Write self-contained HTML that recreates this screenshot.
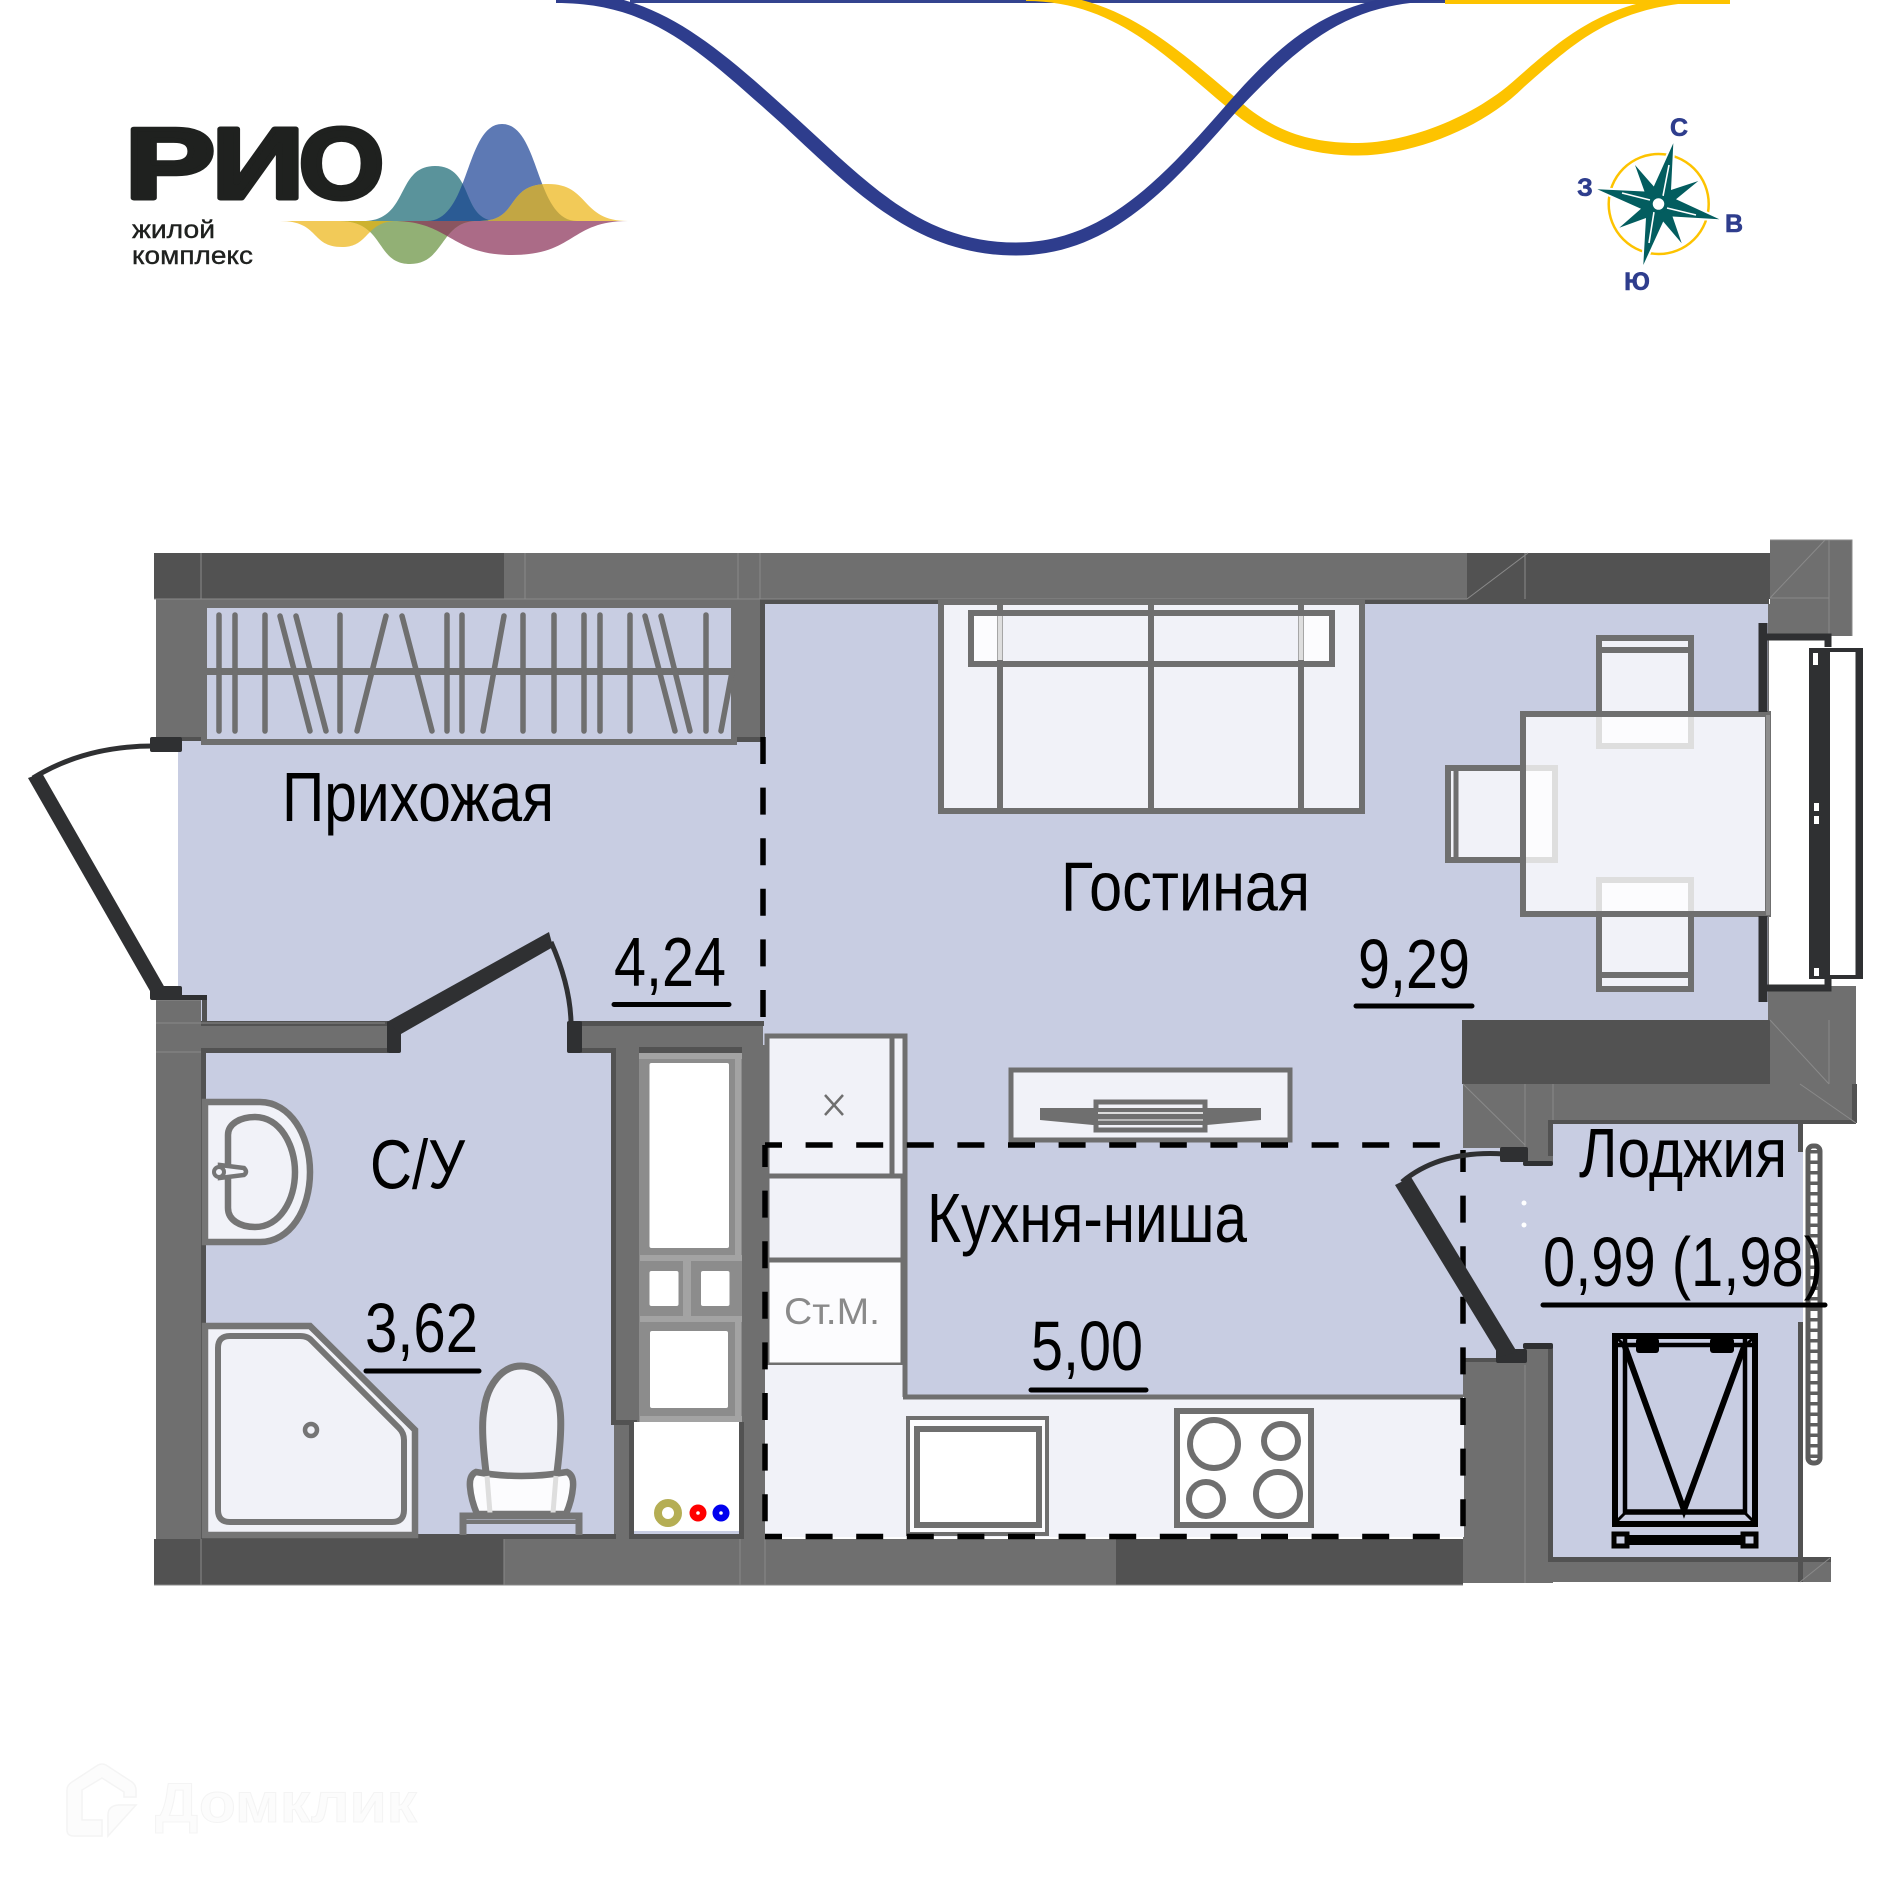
<!DOCTYPE html>
<html lang="ru"><head><meta charset="utf-8"><title>Планировка</title>
<style>html,body{margin:0;padding:0;background:#fff}svg{display:block}text{font-family:"Liberation Sans","Noto Sans CJK SC",sans-serif}</style></head>
<body>
<svg xmlns="http://www.w3.org/2000/svg" width="1891" height="1890" viewBox="0 0 1891 1890">
<defs>
<clipPath id="cT"><path d="M363,221C410,221 395,166 435,166C475,166 460,221 497,221Z"/></clipPath>
<clipPath id="cB"><path d="M427,221C470,221 465,124 502,124C540,124 535,221 577,221Z"/></clipPath>
<clipPath id="cY"><path d="M280,221C320,221 310,247 342,247C370,247 365,221 397,221Z"/></clipPath>
<clipPath id="cG"><path d="M340,221C385,221 375,264 410,264C445,264 440,221 477,221Z"/></clipPath>
</defs>

<!-- top waves -->
<rect x="630" y="0" width="815" height="3" fill="#34448f"/>
<rect x="1445" y="0" width="285" height="4" fill="#fdc300"/>
<path d="M1026,-7C1118,-7 1172,45 1236,98C1272,130 1306,143 1358,143C1404,143 1472,119 1516,79C1571,31 1613,-7 1727,-7L1727,1C1617,1 1579,39 1524,87C1480,131 1408,155.500 1358,155.500C1306,155.500 1264,140 1228,108C1164,55 1114,1 1026,1Z" fill="#fdc300"/>
<path d="M556,-9C651,-9 705,35 793,115C865,180 920,242.500 1016,242.500C1105,242.500 1164,176 1228,103C1292,30 1342,-7 1445,-7L1445,1C1350,1 1304,40 1236,112C1172,184 1112,255.500 1016,255.500C916,255.500 855,192 783,125C695,46 649,3 556,3Z" fill="#2e3d8d"/>

<!-- logo -->
<g fill="#1f211f" stroke="#1f211f" stroke-width="5" stroke-linejoin="round">
<text x="125" y="198" font-size="100" font-weight="700" textLength="90" lengthAdjust="spacingAndGlyphs">Р</text>
<text x="212" y="198" font-size="100" font-weight="700" textLength="92" lengthAdjust="spacingAndGlyphs">И</text>
<text x="299" y="198" font-size="100" font-weight="700" textLength="85" lengthAdjust="spacingAndGlyphs">О</text>
</g>
<text x="132" y="238" font-size="25" fill="#1f211f" stroke="#1f211f" stroke-width=".4" textLength="83" lengthAdjust="spacingAndGlyphs">жилой</text>
<text x="132" y="264" font-size="25" fill="#1f211f" stroke="#1f211f" stroke-width=".4" textLength="121" lengthAdjust="spacingAndGlyphs">комплекс</text>
<path d="M427,221C470,221 465,124 502,124C540,124 535,221 577,221Z" fill="#5d79b4"/>
<path d="M363,221C410,221 395,166 435,166C475,166 460,221 497,221Z" fill="#5a939b"/>
<path d="M363,221C410,221 395,166 435,166C475,166 460,221 497,221Z" fill="#2b5b94" clip-path="url(#cB)"/>
<path d="M480,221C520,221 505,184 548,184C590,184 580,221 628,221Z" fill="#f2ca58"/>
<path d="M480,221C520,221 505,184 548,184C590,184 580,221 628,221Z" fill="#c2a644" clip-path="url(#cB)"/>
<path d="M393,221C450,221 450,255 512,255C575,255 570,221 628,221Z" fill="#ab6b87"/>
<path d="M280,221C320,221 310,247 342,247C370,247 365,221 397,221Z" fill="#f2ca58"/>
<path d="M340,221C385,221 375,264 410,264C445,264 440,221 477,221Z" fill="#92b075"/>
<path d="M340,221C385,221 375,264 410,264C445,264 440,221 477,221Z" fill="#cdb22f" clip-path="url(#cY)"/>
<path d="M393,221C450,221 450,255 512,255C575,255 570,221 628,221Z" fill="#8a5560" clip-path="url(#cG)"/>

<!-- compass -->
<circle cx="1658.700" cy="204" r="50" fill="none" stroke="#fdc300" stroke-width="2.500"/>
<path d="M1673.300,143.300L1671,190L1698.300,181L1676,199.300L1719.300,219.300L1672.500,216.500L1681.700,243.300L1663.200,221.500L1643.300,265L1646,218L1619.300,227.700L1641,208.700L1597.300,189.300L1644.500,191.500L1635,165L1653.800,186.500Z" fill="#035d5f" stroke="#fff" stroke-width="4" paint-order="stroke" stroke-linejoin="round"/>
<g stroke="#fff" stroke-width="1.600" fill="none">
<path d="M1669,165L1663,196M1649,243L1654,212M1622,193L1650,200M1696,215L1667,208"/></g>
<circle cx="1658.500" cy="204" r="7.500" fill="#fff" stroke="#035d5f" stroke-width="3.500"/>
<g fill="#2e3d8d" stroke="#2e3d8d" stroke-width=".6" font-size="25" font-weight="700" text-anchor="middle">
<text x="1679" y="136">С</text><text x="1734" y="232">В</text><text x="1637" y="290">Ю</text><text x="1585" y="196">З</text></g>

<!-- floor -->
<rect x="178" y="740" width="590" height="310" fill="#c8cde2"/>
<rect x="764" y="600" width="1004" height="450" fill="#c8cde2"/>
<rect x="904" y="1020" width="562" height="380" fill="#c8cde2"/>
<rect x="201" y="1048" width="415" height="490" fill="#c8cde2"/>
<rect x="1550" y="1123" width="253" height="436" fill="#c8cde2"/>
<rect x="1463" y="1148" width="90" height="212" fill="#c8cde2"/>

<!-- walls -->
<g fill="#6f6f6f">
<rect x="154" y="553" width="1313" height="46"/>
<rect x="156" y="599" width="608" height="8"/>
<rect x="156" y="599" width="45" height="138"/>
<rect x="737" y="599" width="26" height="138"/>
<rect x="156" y="1000" width="45" height="540"/>
<rect x="156" y="1023" width="232" height="28"/>
<rect x="581" y="1023" width="182" height="28"/>
<rect x="614" y="1045" width="25" height="495"/>
<rect x="742" y="1045" width="23" height="495"/>
<rect x="154" y="1539" width="1309" height="46"/>
<rect x="1770" y="540" width="82" height="96"/>
<rect x="1770" y="986" width="86" height="135"/>
<rect x="1463" y="1084" width="393" height="39"/>
<rect x="1463" y="1084" width="90" height="64"/>
<rect x="1523" y="1120" width="30" height="42"/>
<rect x="1463" y="1360" width="90" height="223"/>
<rect x="1525" y="1345" width="28" height="20"/>
<rect x="1550" y="1558" width="281" height="24"/>
</g>
<g fill="#525252">
<rect x="154" y="553" width="350" height="46"/>
<rect x="1467" y="553" width="303" height="46"/>
<rect x="1462" y="1020" width="308" height="64"/>
<rect x="154" y="1539" width="350" height="46"/>
<rect x="1116" y="1539" width="347" height="46"/>
<rect x="764" y="599" width="1005" height="5"/>
<rect x="760" y="599" width="5" height="140"/>
<rect x="737" y="737" width="26" height="5"/>
<rect x="180" y="737" width="21" height="4"/>
<rect x="1768" y="604" width="2" height="416" fill="#6f6f6f"/>
<rect x="201" y="1021" width="187" height="5"/>
<rect x="581" y="1021" width="183" height="5"/>
<rect x="201" y="1048" width="187" height="5"/>
<rect x="581" y="1048" width="35" height="5"/>
<rect x="201" y="1048" width="5" height="490"/>
<rect x="202" y="997" width="5" height="26"/>
<rect x="611" y="1048" width="5" height="372"/>
<rect x="611" y="1420" width="26" height="5"/>
<rect x="629" y="1422" width="5" height="116"/>
<rect x="739" y="1422" width="5" height="116"/>
<rect x="201" y="1534" width="415" height="5"/>
<rect x="629" y="1534" width="115" height="5"/>
<rect x="1548" y="1120" width="5" height="36"/>
<rect x="1548" y="1120" width="308" height="4"/>
<rect x="1852" y="1084" width="5" height="39"/>
<rect x="1548" y="1345" width="5" height="212"/>
<rect x="1548" y="1557" width="283" height="5"/>
<rect x="1798" y="1123" width="5" height="29"/>
<rect x="1798" y="1322" width="5" height="260"/>
<rect x="1463" y="1358" width="40" height="4"/>
</g>
<g stroke="#8a8a8a" stroke-width="1" fill="none">
<path d="M201,553V599M525,553V599M738,553V599M760,553V599M154,599H1467M1525,553V599M1467,599L1528,553M1770,540H1852V636M1829,540V636M1770,598H1829M1770,598L1825,540"/>
<path d="M156,1000H201M156,1023H385M156,1052H201M201,1539V1585M504,1539V1585M740,1539V1585M765,1539V1585M154,1585H1463M1770,1020L1829,1084M1829,1020V1084M1770,986H1829M1525,1084V1148M1525,1365V1583M1553,1084V1120M1463,1084L1525,1145M1800,1084L1856,1123M1830,1558L1800,1582"/>
</g>

<!-- wardrobe -->
<rect x="204" y="605" width="530" height="137" fill="#c8cde2" stroke="#6f6f6f" stroke-width="6"/>
<rect x="204" y="668" width="530" height="7" fill="#6f6f6f"/>
<g stroke="#6f6f6f" stroke-width="5.500" stroke-linecap="round" fill="none">
<path d="M219,615V731M235,615V731M265,615V731M280,616L310,731M296,616L326,731M340,615V731M386,616L357,731M402,616L432,731M447,615V731M462,615V731M504,616L483,731M523,615V731M554,615V731M584,615V731M600,615V731M630,615V731M645,616L675,731M661,616L690,731M706,615V731M732,672L721,731"/>
</g>

<!-- sofa -->
<rect x="941" y="602" width="421" height="209" fill="#f1f2f8" stroke="#6f6f6f" stroke-width="6"/>
<rect x="970" y="612" width="30" height="51" fill="#fcfcfe"/><rect x="1302" y="612" width="30" height="51" fill="#fcfcfe"/>
<path d="M1000,599V813M1151,599V813M1301,599V813" stroke="#6f6f6f" stroke-width="6" fill="none"/>
<path d="M1000,615V660M1301,615V660" stroke="#dedede" stroke-width="5"/>
<rect x="971" y="613" width="361" height="51" fill="none" stroke="#6f6f6f" stroke-width="6"/>
<path d="M1151,610V665" stroke="#6f6f6f" stroke-width="5"/>

<!-- dining chairs under table -->
<rect x="1599" y="638" width="92" height="108" fill="#f1f2f8" stroke="#6f6f6f" stroke-width="6"/>
<path d="M1599,650H1691" stroke="#6f6f6f" stroke-width="6"/>
<rect x="1448" y="768" width="107" height="92" fill="#f1f2f8" stroke="#6f6f6f" stroke-width="6"/>
<path d="M1456,768V860" stroke="#6f6f6f" stroke-width="5"/>
<rect x="1599" y="880" width="92" height="109" fill="#f1f2f8" stroke="#6f6f6f" stroke-width="6"/>
<path d="M1599,975H1691" stroke="#6f6f6f" stroke-width="6"/>
<!-- window -->
<rect x="1769" y="640" width="45" height="346" fill="#fff"/>
<rect x="1830" y="650" width="30" height="328" fill="#fff"/>
<!-- table -->
<rect x="1523" y="714" width="245" height="200" fill="#f1f2f8" stroke="#6f6f6f" stroke-width="6"/>
<g fill="#fcfcfe" stroke="#dedede" stroke-width="6">
<path d="M1599,717V746H1691V717"/>
<path d="M1526,768H1555V860H1526"/>
<path d="M1599,911V880H1691V911"/>
</g>
<rect x="1766" y="715" width="4" height="200" fill="#8e8e8e"/>
<!-- window frame -->
<g fill="none" stroke="#2f3032">
<path d="M1763,623V712M1763,916V1002" stroke-width="9"/>
<path d="M1765,637H1828V647M1765,988H1828V978" stroke-width="7"/>
<rect x="1811" y="650" width="50" height="327" stroke-width="4"/>
<path d="M1858,648V979" stroke-width="5"/>
</g>
<rect x="1809" y="648" width="21" height="331" fill="#2f3032"/>
<rect x="1813" y="653" width="5" height="12" fill="#fff"/><rect x="1814" y="803" width="5" height="8" fill="#fff"/><rect x="1814" y="816" width="5" height="8" fill="#fff"/><rect x="1814" y="968" width="5" height="8" fill="#fff"/>

<!-- kitchen units -->
<g fill="#f1f2f8" stroke="#6f6f6f" stroke-width="5">
<rect x="767" y="1036" width="138" height="140"/>
<rect x="767" y="1176" width="136" height="84"/>
</g>
<rect x="767" y="1260" width="136" height="105" fill="#fcfcfe" stroke="#6f6f6f" stroke-width="5"/>
<path d="M892,1036V1176" stroke="#6f6f6f" stroke-width="5"/>
<path d="M825,1095L843,1115M843,1095L825,1115" stroke="#6f6f6f" stroke-width="2.500"/>
<text x="784" y="1324" font-size="37" fill="#8a8a8a" textLength="96" lengthAdjust="spacingAndGlyphs">Ст.М.</text>
<rect x="765" y="1365" width="140" height="172" fill="#f1f2f8"/>
<rect x="904" y="1397" width="560" height="140" fill="#f1f2f8"/>
<path d="M905,1176V1397M903,1397H1463" stroke="#6f6f6f" stroke-width="5" fill="none"/>
<rect x="908" y="1418" width="139" height="116" fill="#fcfcfe" stroke="#6f6f6f" stroke-width="4"/>
<rect x="917" y="1429" width="122" height="96" fill="#fff" stroke="#6f6f6f" stroke-width="6"/>
<rect x="1177" y="1411" width="134" height="114" fill="#fff" stroke="#6f6f6f" stroke-width="6"/>
<g fill="none" stroke="#6f6f6f" stroke-width="6">
<circle cx="1214" cy="1444" r="24"/><circle cx="1281" cy="1441" r="17"/><circle cx="1206" cy="1499" r="17"/><circle cx="1278" cy="1494" r="22"/></g>

<!-- tv -->
<rect x="1011" y="1070" width="279" height="70" fill="#f1f2f8" stroke="#6f6f6f" stroke-width="5"/>
<path d="M1040,1108H1261V1120L1207,1125H1093L1040,1120Z" fill="#6f6f6f"/>
<rect x="1096" y="1102" width="109" height="28" fill="none" stroke="#6f6f6f" stroke-width="5"/>
<path d="M1098,1113H1203" stroke="#fff" stroke-width="1.500"/><path d="M1098,1120H1203" stroke="#fff" stroke-width="1"/>

<!-- bathroom -->
<path d="M205,1102H260C290,1102 310,1135 310,1172C310,1210 290,1242 260,1242H205Z" fill="#f1f2f8" stroke="#757575" stroke-width="6.500"/>
<path d="M228,1135C228,1124 240,1117 255,1117C280,1117 295,1145 295,1172C295,1200 280,1227 255,1227C240,1227 228,1220 228,1208Z" fill="#f1f2f8" stroke="#757575" stroke-width="6.500"/>
<path d="M220,1165L244,1168Q248,1172 244,1175L220,1178Z" fill="#f1f2f8" stroke="#757575" stroke-width="4.500"/><circle cx="219" cy="1172" r="5" fill="#f1f2f8" stroke="#757575" stroke-width="4"/>
<path d="M205,1326H310L415,1430V1535H205Z" fill="#f1f2f8" stroke="#757575" stroke-width="6.500"/>
<path d="M230,1336H300Q308,1336 312,1341L399,1428Q404,1433 404,1440V1510Q404,1522 392,1522H230Q218,1522 218,1510V1348Q218,1336 230,1336Z" fill="#f1f2f8" stroke="#757575" stroke-width="6"/>
<circle cx="311" cy="1430" r="6" fill="#f1f2f8" stroke="#757575" stroke-width="4.500"/>
<path d="M487,1480C483,1450 481,1425 484,1410C487,1385 502,1366 521,1366C541,1366 558,1385 560,1410C562,1425 560,1450 556,1480Z" fill="#f1f2f8" stroke="#757575" stroke-width="7"/>
<path d="M476,1472Q521,1480 567,1472Q574,1475 573,1487Q572,1500 566,1514H477Q471,1500 470,1487Q469,1475 476,1472Z" fill="#fcfcfe" stroke="#757575" stroke-width="6.500"/>
<path d="M487,1476L490,1513M556,1476L553,1513" stroke="#dedede" stroke-width="5"/>
<path d="M463,1535V1516H579V1535" fill="none" stroke="#757575" stroke-width="7"/>
<rect x="463" y="1520" width="116" height="4" fill="#757575"/>

<!-- shaft -->
<rect x="639" y="1047" width="103" height="375" fill="#8c8c8c"/>
<rect x="639" y="1047" width="103" height="6" fill="#525252"/>
<rect x="639" y="1053" width="103" height="6" fill="#a3a3a3"/>
<rect x="735" y="1053" width="6" height="205" fill="#a3a3a3"/>
<rect x="640" y="1255" width="102" height="6" fill="#a3a3a3"/><rect x="640" y="1316" width="102" height="6" fill="#a3a3a3"/>
<rect x="640" y="1416" width="102" height="6" fill="#a3a3a3"/><rect x="735" y="1322" width="6" height="100" fill="#a3a3a3"/>
<rect x="683" y="1261" width="8" height="55" fill="#a3a3a3"/>
<rect x="649.500" y="1063" width="79.500" height="185" rx="2" fill="#fff"/>
<rect x="649.500" y="1271" width="29" height="35" rx="2" fill="#fff"/>
<rect x="701" y="1271" width="28.500" height="35" rx="2" fill="#fff"/>
<rect x="650" y="1331" width="78" height="77" rx="2" fill="#fff"/>
<rect x="634" y="1422" width="105" height="112" fill="#fff"/>
<rect x="634" y="1531" width="105" height="3" fill="#c8cde2"/>
<circle cx="668" cy="1513" r="10" fill="#fff" stroke="#b5ae54" stroke-width="8"/>
<circle cx="698" cy="1513" r="8.500" fill="#f00"/><circle cx="698" cy="1513" r="1.800" fill="#fff"/>
<circle cx="721" cy="1513" r="8.500" fill="#00e"/><circle cx="721" cy="1513" r="1.800" fill="#fff"/>

<!-- loggia rack -->
<g fill="none" stroke="#000">
<rect x="1615" y="1336" width="140" height="188" stroke-width="6"/>
<path d="M1625,1338V1512H1745V1338M1618,1345H1752" stroke-width="4.500"/>
<path d="M1625,1512H1745" stroke-width="5.500"/>
<path d="M1616,1337L1625,1346M1754,1337L1745,1346M1616,1522L1625,1513M1754,1522L1745,1513" stroke-width="3"/>
<path d="M1624,1344L1684,1510L1745,1344" stroke-width="6"/>
<rect x="1614" y="1534" width="13" height="12" stroke-width="5"/><rect x="1743" y="1534" width="13" height="12" stroke-width="5"/>
</g>
<rect x="1627" y="1535" width="116" height="10" fill="#000"/>
<rect x="1636" y="1338" width="23" height="15" rx="3" fill="#000"/><rect x="1710" y="1338" width="24" height="15" rx="3" fill="#000"/>
<rect x="1808" y="1146" width="12" height="317" rx="5" fill="#fff" stroke="#5d5d5d" stroke-width="5"/>
<path d="M1814,1150V1460" stroke="#5d5d5d" stroke-width="8" stroke-dasharray="3.500 7" fill="none"/>
<circle cx="1524" cy="1203" r="2.500" fill="#fff"/><circle cx="1524" cy="1225" r="2.500" fill="#fff"/>

<!-- dashed -->
<g fill="none" stroke="#000" stroke-width="5.500">
<path d="M763,737V1026" stroke-dasharray="27 23.600"/>
<path d="M765,1145H1463" stroke-dasharray="27 23.600" stroke-dashoffset="10"/>
<path d="M765,1536.500H1463" stroke-dasharray="27 23.600" stroke-dashoffset="10"/>
<path d="M765,1145V1536" stroke-dasharray="27 23.600" stroke-dashoffset="5"/>
<path d="M1463,1150V1536" stroke-dasharray="27 23.600" stroke-dashoffset="5"/>
</g>

<!-- doors -->
<g fill="#2f3032">
<rect x="150" y="737" width="32" height="15" rx="2"/>
<rect x="150" y="986" width="32" height="14" rx="2"/>
<rect x="180" y="995" width="27" height="5"/>
<path d="M28,778L42,773L165,988L150,991Z"/>
<rect x="387" y="1021" width="14" height="32" rx="2"/>
<path d="M387,1022L549,932L553,947L401,1034Z"/>
<rect x="567" y="1021" width="15" height="32" rx="2"/>
<rect x="1500" y="1147" width="28" height="15" rx="2"/>
<rect x="1523" y="1161" width="30" height="5" rx="2"/>
<rect x="1496" y="1349" width="31" height="14" rx="2"/>
<rect x="1523" y="1343" width="30" height="6" rx="2"/>
<path d="M1395,1185L1411,1177L1517,1352L1500,1357Z"/>
</g>
<g fill="none" stroke="#2f3032">
<path d="M153,746Q85,746 33,778" stroke-width="5"/>
<path d="M551,942Q570,985 571,1022" stroke-width="5"/>
<path d="M1504,1154Q1440,1150 1402,1182" stroke-width="5"/>
</g>

<!-- labels -->
<g fill="#000" font-size="70">
<text x="282" y="821" textLength="272" lengthAdjust="spacingAndGlyphs">Прихожая</text>
<text x="614" y="986" textLength="112" lengthAdjust="spacingAndGlyphs">4,24</text>
<text x="1061" y="910.500" textLength="249" lengthAdjust="spacingAndGlyphs">Гостиная</text>
<text x="1358" y="988" textLength="112" lengthAdjust="spacingAndGlyphs">9,29</text>
<text x="370" y="1188.500" textLength="95" lengthAdjust="spacingAndGlyphs">С/У</text>
<text x="365" y="1352" textLength="113" lengthAdjust="spacingAndGlyphs">3,62</text>
<text x="927" y="1242" textLength="320" lengthAdjust="spacingAndGlyphs">Кухня-ниша</text>
<text x="1031" y="1370" textLength="112" lengthAdjust="spacingAndGlyphs">5,00</text>
<text x="1579" y="1177" textLength="208" lengthAdjust="spacingAndGlyphs">Лоджия</text>
<text x="1543" y="1286" textLength="280" lengthAdjust="spacingAndGlyphs">0,99 (1,98)</text>
</g>
<g stroke="#000" stroke-width="5" stroke-linecap="round">
<path d="M614,1004.500H729M1356,1006H1472M366,1371H479M1031,1390H1146M1543,1305H1825"/>
</g>

<!-- watermark -->
<path d="M67,1810V1790Q67,1785 72,1782L98,1765Q102,1763 106,1765L132,1782Q136,1785 136,1790V1797H124V1792L102,1778L82,1790V1820H102V1836H74Q67,1836 67,1830Z" fill="#fcfcfc" stroke="#f4f4f4" stroke-width="1.500"/>
<path d="M108,1836V1815Q108,1806 118,1805H136Z" fill="#fcfcfc" stroke="#f4f4f4" stroke-width="1.500"/>
<text x="155" y="1822" font-size="56" font-weight="700" fill="#fcfcfc" stroke="#f4f4f4" stroke-width="1" textLength="262" lengthAdjust="spacingAndGlyphs">Домклик</text>
</svg>
</body></html>
